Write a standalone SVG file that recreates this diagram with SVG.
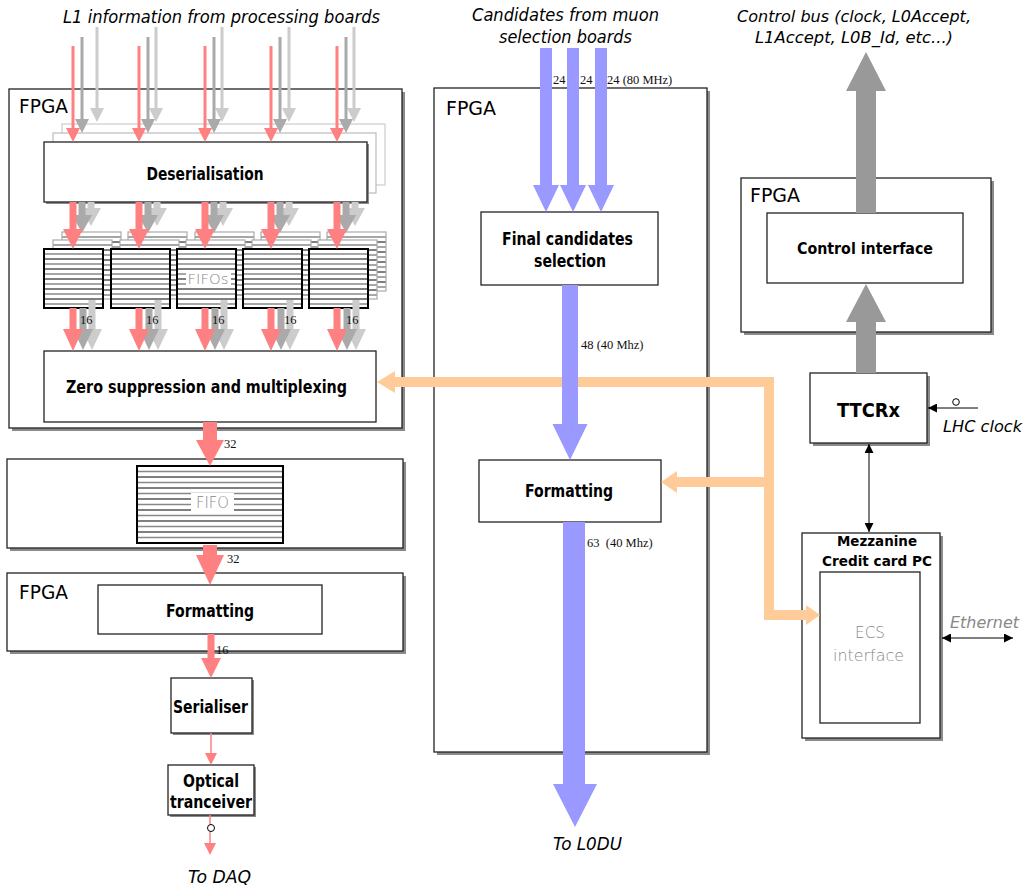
<svg xmlns="http://www.w3.org/2000/svg" xmlns:xlink="http://www.w3.org/1999/xlink" width="1026" height="891" viewBox="0 0 1026 891">
<style>
.box{fill:#fff;stroke:#222;stroke-width:1.3}
.sh{fill:#8a8a8a}
.t{font-family:"DejaVu Sans","Verdana",sans-serif;font-weight:bold;fill:#000;text-anchor:middle}
.it{font-family:"DejaVu Sans","Verdana",sans-serif;font-style:italic;fill:#000}
.fp{font-family:"DejaVu Sans","Verdana",sans-serif;font-size:19px;fill:#000}
.num{font-family:"Liberation Serif","Times New Roman",serif;font-size:12.5px;fill:#111;white-space:pre}
.lite{font-family:"DejaVu Sans","Verdana",sans-serif;font-weight:300;fill:#888;text-anchor:middle}
.red{fill:#FF8080}
.dg{fill:#AAAAAA}
.lg{fill:#CCCCCC}
.blue{fill:#9999FF}
.cg{fill:#999999}
.or{fill:#FFCC99}
.sb{stroke:#000;stroke-width:1}
.sg{stroke:#888;stroke-width:1.4}
</style>
<defs>
<g id="fifoF">
<rect x="0" y="0" width="59" height="59" fill="#fff"/>
<line class="sg" x1="0" x2="59" y1="5" y2="5"/>
<line class="sb" x1="0" x2="59" y1="10" y2="10"/>
<line class="sg" x1="0" x2="59" y1="15" y2="15"/>
<line class="sb" x1="0" x2="59" y1="20" y2="20"/>
<line class="sg" x1="0" x2="59" y1="25" y2="25"/>
<line class="sb" x1="0" x2="59" y1="30" y2="30"/>
<line class="sg" x1="0" x2="59" y1="35" y2="35"/>
<line class="sb" x1="0" x2="59" y1="40" y2="40"/>
<line class="sg" x1="0" x2="59" y1="45" y2="45"/>
<line class="sb" x1="0" x2="59" y1="50" y2="50"/>
<line class="sg" x1="0" x2="59" y1="55" y2="55"/>
<rect x="0" y="0" width="59" height="59" fill="none" stroke="#000" stroke-width="2"/>
</g>
<g id="fifoB">
<rect x="0" y="0" width="59" height="59" fill="#fff"/>
<line class="sg" x1="0" x2="59" y1="5" y2="5"/>
<line class="sb" x1="0" x2="59" y1="10" y2="10"/>
<line class="sg" x1="0" x2="59" y1="15" y2="15"/>
<line class="sb" x1="0" x2="59" y1="20" y2="20"/>
<line class="sg" x1="0" x2="59" y1="25" y2="25"/>
<line class="sb" x1="0" x2="59" y1="30" y2="30"/>
<line class="sg" x1="0" x2="59" y1="35" y2="35"/>
<line class="sb" x1="0" x2="59" y1="40" y2="40"/>
<line class="sg" x1="0" x2="59" y1="45" y2="45"/>
<line class="sb" x1="0" x2="59" y1="50" y2="50"/>
<line class="sg" x1="0" x2="59" y1="55" y2="55"/>
<rect x="0" y="0" width="59" height="59" fill="none" stroke="#aaa" stroke-width="1.2"/>
</g>
<marker id="ah" viewBox="0 0 10 10" refX="10" refY="5" markerWidth="9" markerHeight="9" markerUnits="userSpaceOnUse" orient="auto-start-reverse">
<path d="M0,0 L10,5 L0,10 Z" fill="#000"/>
</marker>
</defs>
<rect width="1026" height="891" fill="#fff"/>

<!-- Containers -->
<g id="fpga-left">
<rect class="sh" x="12" y="92" width="393" height="339"/>
<rect class="box" x="9" y="89" width="393" height="339"/>
<text class="fp" x="19" y="113" textLength="49" lengthAdjust="spacingAndGlyphs">FPGA</text>
</g>
<g id="fpga-mid">
<rect class="sh" x="437" y="91" width="273" height="664"/>
<rect class="box" x="434" y="88" width="273" height="664"/>
<text class="fp" x="446" y="115" textLength="50" lengthAdjust="spacingAndGlyphs">FPGA</text>
</g>
<g id="fpga-right">
<rect class="sh" x="744" y="181" width="250" height="154"/>
<rect class="box" x="741" y="178" width="250" height="154"/>
<text class="fp" x="750" y="202" textLength="50" lengthAdjust="spacingAndGlyphs">FPGA</text>
</g>
<g id="fifo-board">
<rect class="sh" x="10" y="462" width="396" height="89"/>
<rect class="box" x="7" y="459" width="396" height="89"/>
</g>
<g id="fpga-bottom">
<rect class="sh" x="10" y="576" width="396" height="78"/>
<rect class="box" x="7" y="573" width="396" height="78"/>
<text class="fp" x="19" y="599" textLength="49" lengthAdjust="spacingAndGlyphs">FPGA</text>
</g>

<!-- Deserialisation -->
<g id="deserialisation">
<rect x="62" y="124" width="323" height="61" fill="#fff" stroke="#ccc" stroke-width="1.2"/>
<rect x="53" y="133" width="323" height="60" fill="#fff" stroke="#bbb" stroke-width="1.2"/>
<rect class="sh" x="46" y="144" width="323" height="60"/>
<rect class="box" x="44" y="142" width="323" height="60"/>
<text class="t" x="205" y="180" font-size="17" textLength="117" lengthAdjust="spacingAndGlyphs">Deserialisation</text>
</g>

<!-- FIFOs -->
<g id="fifos">
<use xlink:href="#fifoB" x="62" y="232"/>
<use xlink:href="#fifoB" x="128" y="232"/>
<use xlink:href="#fifoB" x="195" y="232"/>
<use xlink:href="#fifoB" x="261" y="232"/>
<use xlink:href="#fifoB" x="327" y="232"/>
<use xlink:href="#fifoB" x="53" y="240"/>
<use xlink:href="#fifoB" x="120" y="240"/>
<use xlink:href="#fifoB" x="186" y="240"/>
<use xlink:href="#fifoB" x="252" y="240"/>
<use xlink:href="#fifoB" x="318" y="240"/>
<use xlink:href="#fifoF" x="44" y="249"/>
<use xlink:href="#fifoF" x="111" y="249"/>
<use xlink:href="#fifoF" x="177" y="249"/>
<use xlink:href="#fifoF" x="243" y="249"/>
<use xlink:href="#fifoF" x="309" y="249"/>
<rect x="186" y="271" width="45" height="17" fill="#fff"/>
<text class="lite" x="208" y="284" font-size="14" textLength="41" lengthAdjust="spacingAndGlyphs">FIFOs</text>
</g>

<g id="zero-suppression">
<rect class="box" x="44" y="351" width="332" height="71"/>
<text class="t" x="206.5" y="393" font-size="18" textLength="281" lengthAdjust="spacingAndGlyphs">Zero suppression and multiplexing</text>
</g>

<g id="fifo">
<rect x="137" y="466" width="146" height="77" fill="#fff"/>
<g>
<line class="sg" x1="137" x2="283" y1="471.5" y2="471.5"/>
<line class="sb" x1="137" x2="283" y1="477" y2="477"/>
<line class="sg" x1="137" x2="283" y1="482.5" y2="482.5"/>
<line class="sb" x1="137" x2="283" y1="488" y2="488"/>
<line class="sg" x1="137" x2="283" y1="493.5" y2="493.5"/>
<line class="sb" x1="137" x2="283" y1="499" y2="499"/>
<line class="sg" x1="137" x2="283" y1="504.5" y2="504.5"/>
<line class="sb" x1="137" x2="283" y1="510" y2="510"/>
<line class="sg" x1="137" x2="283" y1="515.5" y2="515.5"/>
<line class="sb" x1="137" x2="283" y1="521" y2="521"/>
<line class="sg" x1="137" x2="283" y1="526.5" y2="526.5"/>
<line class="sb" x1="137" x2="283" y1="532" y2="532"/>
<line class="sg" x1="137" x2="283" y1="537.5" y2="537.5"/>
</g>
<rect x="137" y="466" width="146" height="77" fill="none" stroke="#000" stroke-width="2"/>
<rect x="191" y="493" width="43" height="18" fill="#fff"/>
<text class="lite" x="212.5" y="508" font-size="15" textLength="33" lengthAdjust="spacingAndGlyphs">FIFO</text>
</g>

<g id="formatting-left">
<rect class="box" x="98" y="585" width="224" height="49"/>
<text class="t" x="210" y="617" font-size="17" textLength="88" lengthAdjust="spacingAndGlyphs">Formatting</text>
</g>
<g id="serialiser">
<rect class="sh" x="173" y="680" width="81" height="55"/>
<rect class="box" x="171" y="678" width="81" height="55"/>
<text class="t" x="210.5" y="713" font-size="17" textLength="75" lengthAdjust="spacingAndGlyphs">Serialiser</text>
</g>
<g id="optical">
<rect class="sh" x="170" y="767" width="86" height="50"/>
<rect class="box" x="168" y="765" width="86" height="50"/>
<text class="t" x="211" y="787" font-size="17" textLength="56" lengthAdjust="spacingAndGlyphs">Optical</text>
<text class="t" x="211" y="808" font-size="17" textLength="82" lengthAdjust="spacingAndGlyphs">tranceiver</text>
</g>

<g id="final-selection">
<rect class="box" x="481" y="212" width="177" height="73"/>
<text class="t" x="567.5" y="245" font-size="17" textLength="131" lengthAdjust="spacingAndGlyphs">Final candidates</text>
<text class="t" x="570" y="267" font-size="17" textLength="72" lengthAdjust="spacingAndGlyphs">selection</text>
</g>
<g id="formatting-mid">
<rect class="box" x="479" y="460" width="182" height="62"/>
<text class="t" x="569" y="497" font-size="17" textLength="88" lengthAdjust="spacingAndGlyphs">Formatting</text>
</g>

<g id="control-interface">
<rect class="box" x="767" y="213" width="196" height="70"/>
<text class="t" x="865" y="254" font-size="16" textLength="136" lengthAdjust="spacingAndGlyphs">Control interface</text>
</g>
<g id="ttcrx">
<rect class="sh" x="813" y="376" width="117" height="70"/>
<rect class="box" x="810" y="373" width="117" height="70"/>
<text class="t" x="868.5" y="417" font-size="20" textLength="63" lengthAdjust="spacingAndGlyphs">TTCRx</text>
</g>
<g id="mezzanine">
<rect class="sh" x="805" y="536" width="138" height="205"/>
<rect class="box" x="802" y="533" width="138" height="205"/>
<text class="t" x="877" y="546" font-size="14" textLength="80" lengthAdjust="spacingAndGlyphs">Mezzanine</text>
<text class="t" x="877" y="566" font-size="14" textLength="110" lengthAdjust="spacingAndGlyphs">Credit card PC</text>
<g id="ecs-interface">
<rect class="box" x="820" y="572" width="100" height="151"/>
<text class="lite" x="870" y="638" font-size="15" textLength="30" lengthAdjust="spacingAndGlyphs">ECS</text>
<text class="lite" x="868.5" y="661" font-size="15" textLength="71" lengthAdjust="spacingAndGlyphs">interface</text>
</g>
</g>

<!-- Connectors -->
<g id="connectors">
<!-- top inputs to deserialisation -->
<g>
<polygon class="lg" points="95.5,27 98.5,27 98.5,108 104,108 97,122 90,108 95.5,108"/>
<polygon class="lg" points="154.5,27 157.5,27 157.5,108 163,108 156,122 149,108 154.5,108"/>
<polygon class="lg" points="220.5,27 223.5,27 223.5,108 229,108 222,122 215,108 220.5,108"/>
<polygon class="lg" points="287.5,27 290.5,27 290.5,108 296,108 289,122 282,108 287.5,108"/>
<polygon class="lg" points="352.5,27 355.5,27 355.5,108 361,108 354,122 347,108 352.5,108"/>
<polygon class="dg" points="80.5,37 83.5,37 83.5,119 89,119 82,133 75,119 80.5,119"/>
<polygon class="dg" points="146.5,37 149.5,37 149.5,119 155,119 148,133 141,119 146.5,119"/>
<polygon class="dg" points="212.5,37 215.5,37 215.5,119 221,119 214,133 207,119 212.5,119"/>
<polygon class="dg" points="278.5,37 281.5,37 281.5,119 287,119 280,133 273,119 278.5,119"/>
<polygon class="dg" points="344.5,37 347.5,37 347.5,119 353,119 346,133 339,119 344.5,119"/>
<polygon class="red" points="71.5,46 74.5,46 74.5,128 80,128 73,142 66,128 71.5,128"/>
<polygon class="red" points="137.5,46 140.5,46 140.5,128 146,128 139,142 132,128 137.5,128"/>
<polygon class="red" points="203.5,46 206.5,46 206.5,128 212,128 205,142 198,128 203.5,128"/>
<polygon class="red" points="269.5,46 272.5,46 272.5,128 278,128 271,142 264,128 269.5,128"/>
<polygon class="red" points="335.5,46 338.5,46 338.5,128 344,128 337,142 330,128 335.5,128"/>
</g>
<!-- deserialisation to FIFOs -->
<g>
<polygon class="lg" points="87.5,202 94.5,202 94.5,208 101,208 91,226 81,208 87.5,208"/>
<polygon class="lg" points="153.5,202 160.5,202 160.5,208 167,208 157,226 147,208 153.5,208"/>
<polygon class="lg" points="219.5,202 226.5,202 226.5,208 233,208 223,226 213,208 219.5,208"/>
<polygon class="lg" points="285.5,202 292.5,202 292.5,208 299,208 289,226 279,208 285.5,208"/>
<polygon class="lg" points="351.5,202 358.5,202 358.5,208 365,208 355,226 345,208 351.5,208"/>
<polygon class="dg" points="78.5,202 85.5,202 85.5,215 92,215 82,233 72,215 78.5,215"/>
<polygon class="dg" points="144.5,202 151.5,202 151.5,215 158,215 148,233 138,215 144.5,215"/>
<polygon class="dg" points="210.5,202 217.5,202 217.5,215 224,215 214,233 204,215 210.5,215"/>
<polygon class="dg" points="276.5,202 283.5,202 283.5,215 290,215 280,233 270,215 276.5,215"/>
<polygon class="dg" points="342.5,202 349.5,202 349.5,215 356,215 346,233 336,215 342.5,215"/>
<polygon class="red" points="69.5,202 76.5,202 76.5,229 83,229 73,249 63,229 69.5,229"/>
<polygon class="red" points="135.5,202 142.5,202 142.5,229 149,229 139,249 129,229 135.5,229"/>
<polygon class="red" points="201.5,202 208.5,202 208.5,229 215,229 205,249 195,229 201.5,229"/>
<polygon class="red" points="267.5,202 274.5,202 274.5,229 281,229 271,249 261,229 267.5,229"/>
<polygon class="red" points="333.5,202 340.5,202 340.5,229 347,229 337,249 327,229 333.5,229"/>
</g>
<!-- FIFOs to zero suppression -->
<g>
<polygon class="lg" points="88.5,300 95.5,300 95.5,329 102,329 92,350 82,329 88.5,329"/>
<polygon class="lg" points="154.5,300 161.5,300 161.5,329 168,329 158,350 148,329 154.5,329"/>
<polygon class="lg" points="220.5,300 227.5,300 227.5,329 234,329 224,350 214,329 220.5,329"/>
<polygon class="lg" points="286.5,300 293.5,300 293.5,329 300,329 290,350 280,329 286.5,329"/>
<polygon class="lg" points="352.5,300 359.5,300 359.5,329 366,329 356,350 346,329 352.5,329"/>
<polygon class="dg" points="79.5,308 86.5,308 86.5,329 93,329 83,350 73,329 79.5,329"/>
<polygon class="dg" points="145.5,308 152.5,308 152.5,329 159,329 149,350 139,329 145.5,329"/>
<polygon class="dg" points="211.5,308 218.5,308 218.5,329 225,329 215,350 205,329 211.5,329"/>
<polygon class="dg" points="277.5,308 284.5,308 284.5,329 291,329 281,350 271,329 277.5,329"/>
<polygon class="dg" points="343.5,308 350.5,308 350.5,329 357,329 347,350 337,329 343.5,329"/>
<polygon class="red" points="69.5,308 76.5,308 76.5,329 83,329 73,351 63,329 69.5,329"/>
<polygon class="red" points="135.5,308 142.5,308 142.5,329 149,329 139,351 129,329 135.5,329"/>
<polygon class="red" points="201.5,308 208.5,308 208.5,329 215,329 205,351 195,329 201.5,329"/>
<polygon class="red" points="267.5,308 274.5,308 274.5,329 281,329 271,351 261,329 267.5,329"/>
<polygon class="red" points="333.5,308 340.5,308 340.5,329 347,329 337,351 327,329 333.5,329"/>
<text class="num" x="80" y="324">16</text>
<text class="num" x="146" y="324">16</text>
<text class="num" x="212" y="324">16</text>
<text class="num" x="284" y="324">16</text>
<text class="num" x="346" y="324">16</text>
</g>
<!-- left chain -->
<polygon class="red" points="203,422 217,422 217,440 224,440 210,466 196,440 203,440"/>
<text class="num" x="224" y="448">32</text>
<polygon class="red" points="203,545 217,545 217,555 224,555 210,585 196,555 203,555"/>
<text class="num" x="227" y="563">32</text>
<polygon class="red" points="207.5,634 214.5,634 214.5,658 221,658 211,678 201,658 207.5,658"/>
<text class="num" x="216" y="654">16</text>
<line x1="211" y1="733" x2="211" y2="753" stroke="#FF8080" stroke-width="1.5"/>
<polygon class="red" points="205,753 217,753 211,765"/>
<line x1="210" y1="815" x2="210" y2="843" stroke="#FF8080" stroke-width="1.5"/>
<polygon class="red" points="204,843 216,843 210,855"/>
<circle cx="211" cy="828" r="3.5" fill="#fff" stroke="#000" stroke-width="1"/>

<!-- orange ECS bus -->
<path d="M393,382 H769 V615 H808 M769,482 H675" fill="none" stroke="#FFCC99" stroke-width="10"/>
<polygon class="or" points="377,382 395,371 395,393"/>
<polygon class="or" points="661,482 677,471 677,493"/>
<polygon class="or" points="820,615 806,605 806,625"/>

<!-- blue muon path -->
<polygon class="blue" points="540,48 552,48 552,185 559,185 546,212 533,185 540,185"/>
<polygon class="blue" points="567,48 579,48 579,185 586,185 573,212 560,185 567,185"/>
<polygon class="blue" points="595,48 607,48 607,185 614,185 601,212 588,185 595,185"/>
<text class="num" x="553" y="84">24</text>
<text class="num" x="580" y="84">24</text>
<text class="num" x="607" y="84">24 (80 MHz)</text>
<polygon class="blue" points="562,285 578,285 578,424 587.5,424 570,460 552.5,424 562,424"/>
<text class="num" x="581" y="349">48 (40 Mhz)</text>
<polygon class="blue" points="563,522 585,522 585,784 597,784 575,827 553,784 563,784"/>
<text class="num" x="587" y="547" xml:space="preserve">63  (40 Mhz)</text>

<!-- control path -->
<polygon class="cg" points="856,213 876,213 876,91 886,91 866,52 846,91 856,91"/>
<polygon class="cg" points="856,373 876,373 876,322 886,322 866,284 846,322 856,322"/>
<line x1="869" y1="444" x2="869" y2="532" stroke="#000" stroke-width="1" marker-start="url(#ah)" marker-end="url(#ah)"/>
<line x1="978" y1="408" x2="928" y2="408" stroke="#000" stroke-width="1" marker-end="url(#ah)"/>
<circle cx="956" cy="402" r="3.3" fill="#fff" stroke="#000" stroke-width="1"/>
<line x1="942" y1="638" x2="1013" y2="638" stroke="#000" stroke-width="1" marker-start="url(#ah)" marker-end="url(#ah)"/>
</g>

<!-- free labels -->
<g id="labels">
<text class="it" x="63" y="22.5" font-size="17" textLength="317" lengthAdjust="spacingAndGlyphs">L1 information from processing boards</text>
<text class="it" x="565.5" y="21" font-size="17" text-anchor="middle" textLength="187" lengthAdjust="spacingAndGlyphs">Candidates from muon</text>
<text class="it" x="565.5" y="43" font-size="17" text-anchor="middle" textLength="133" lengthAdjust="spacingAndGlyphs">selection boards</text>
<text class="it" x="737" y="22" font-size="16" textLength="234" lengthAdjust="spacingAndGlyphs">Control bus (clock, L0Accept,</text>
<text class="it" x="755" y="43" font-size="16" textLength="198" lengthAdjust="spacingAndGlyphs">L1Accept, L0B_Id, etc...)</text>
<text class="it" x="943" y="432" font-size="16" textLength="79" lengthAdjust="spacingAndGlyphs">LHC clock</text>
<text class="it" x="950" y="628" font-size="15" fill="#888" style="fill:#888" textLength="69" lengthAdjust="spacingAndGlyphs">Ethernet</text>
<text class="it" x="553" y="850" font-size="17" textLength="69" lengthAdjust="spacingAndGlyphs">To L0DU</text>
<text class="it" x="188" y="883" font-size="17" textLength="63" lengthAdjust="spacingAndGlyphs">To DAQ</text>
</g>
</svg>
